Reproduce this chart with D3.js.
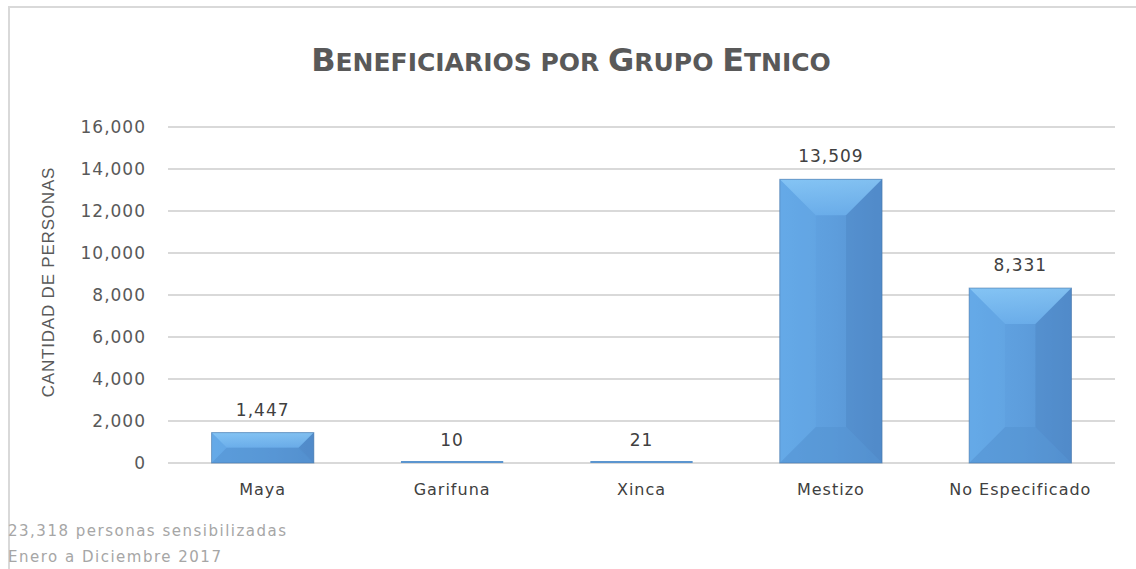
<!DOCTYPE html>
<html>
<head>
<meta charset="utf-8">
<script src="https://cdn.jsdelivr.net/npm/d3@7"></script>
<style>
  body { margin: 0; background: #fff; }
  text { font-family: "DejaVu Sans", Verdana, sans-serif; }
</style>
</head>
<body>
<script>
// data
var categories = ["Maya", "Garifuna", "Xinca", "Mestizo", "No Especificado"];
var values = [1447, 10, 21, 13509, 8331];
var yTicks = [0, 2000, 4000, 6000, 8000, 10000, 12000, 14000, 16000];
var footnotes = ["23,318 personas sensibilizadas", "Enero a Diciembre 2017"];

var W = 1136, H = 569;
var margin = {top: 127, right: 21, bottom: 106, left: 168};
var width = W - margin.left - margin.right,
    height = H - margin.top - margin.bottom;

var svg = d3.select("body").append("svg")
  .attr("width", W)
  .attr("height", H);

// outer chart border
svg.append("rect")
  .attr("x", 9).attr("y", 7)
  .attr("width", W).attr("height", H)
  .attr("fill", "none")
  .attr("stroke", "#d9d9d9")
  .attr("stroke-width", 2);

// title in small caps
var title = svg.append("text")
  .attr("x", W / 2 + 3).attr("y", 71)
  .attr("text-anchor", "middle")
  .attr("fill", "#595959")
  .style("font-weight", "bold");
[["B", "ENEFICIARIOS "], ["", "POR "], ["G", "RUPO "], ["E", "TNICO"]].forEach(function(p) {
  if (p[0]) title.append("tspan").style("font-size", "32px").text(p[0]);
  title.append("tspan").style("font-size", "25px").text(p[1]);
});

var g = svg.append("g")
  .attr("transform", "translate(" + margin.left + "," + margin.top + ")");

var x = d3.scaleBand()
  .domain(categories)
  .range([0, width])
  .paddingInner(0.46)
  .paddingOuter(0.23);

var y = d3.scaleLinear()
  .domain([0, 16000])
  .range([height, 0]);

// gridlines
g.selectAll(".grid")
  .data(yTicks).enter()
  .append("line")
  .attr("x1", 0).attr("x2", width)
  .attr("y1", function(d) { return y(d); })
  .attr("y2", function(d) { return y(d); })
  .attr("stroke", "#d9d9d9")
  .attr("stroke-width", 2);

// y axis labels
var yAxis = g.append("g")
  .call(d3.axisLeft(y).tickValues(yTicks).tickFormat(d3.format(",")).tickSize(0).tickPadding(22));
yAxis.select(".domain").remove();
yAxis.selectAll("text")
  .attr("fill", "#595959")
  .style("font-size", "17px")
  .style("letter-spacing", "1px");

// axis title
svg.append("text")
  .attr("transform", "translate(54,282) rotate(-90)")
  .attr("text-anchor", "middle")
  .attr("fill", "#595959")
  .style("font-family", "'Liberation Sans', Arial, sans-serif")
  .style("font-size", "17px")
  .style("letter-spacing", "0.8px")
  .text("CANTIDAD DE PERSONAS");

// bevel gradients
var defs = svg.append("defs");
var faceGrad = defs.append("linearGradient").attr("id", "face")
  .attr("x1", 0).attr("x2", 1).attr("y1", 0).attr("y2", 0);
faceGrad.append("stop").attr("offset", "0%").attr("stop-color", "#63a7e6");
faceGrad.append("stop").attr("offset", "55%").attr("stop-color", "#5d9ddc");
faceGrad.append("stop").attr("offset", "100%").attr("stop-color", "#5590cf");
var topGrad = defs.append("linearGradient").attr("id", "topbevel")
  .attr("x1", 0).attr("x2", 0).attr("y1", 0).attr("y2", 1);
topGrad.append("stop").attr("offset", "0%").attr("stop-color", "#8ccbf8");
topGrad.append("stop").attr("offset", "100%").attr("stop-color", "#6db0ec");

var bw = x.bandwidth();
var bars = g.selectAll(".bar")
  .data(values).enter()
  .append("g")
  .attr("class", "bar");

bars.each(function(d, i) {
  var sel = d3.select(this);
  var x0 = x(categories[i]), x1 = x0 + bw;
  var y0 = y(d), y1 = y(0);
  var h = y1 - y0;
  if (h < 3) {
    sel.append("rect")
      .attr("x", x0).attr("y", y1 - 2)
      .attr("width", bw).attr("height", 2)
      .attr("fill", "#5b95cf");
    return;
  }
  var b = Math.min(bw / 2, h / 2, 36); // bevel depth
  sel.append("rect")
    .attr("x", x0).attr("y", y0)
    .attr("width", bw).attr("height", h)
    .attr("fill", "url(#face)");
  // top bevel
  sel.append("polygon")
    .attr("points", [[x0, y0], [x1, y0], [x1 - b, y0 + b], [x0 + b, y0 + b]].join(" "))
    .attr("fill", "url(#topbevel)").attr("opacity", 0.8);
  // left bevel
  sel.append("polygon")
    .attr("points", [[x0, y0], [x0 + b, y0 + b], [x0 + b, y1 - b], [x0, y1]].join(" "))
    .attr("fill", "#6aaeea").attr("opacity", 0.3);
  // right bevel
  sel.append("polygon")
    .attr("points", [[x1, y0], [x1, y1], [x1 - b, y1 - b], [x1 - b, y0 + b]].join(" "))
    .attr("fill", "#4a83c0").attr("opacity", 0.4);
  // bottom bevel
  sel.append("polygon")
    .attr("points", [[x0, y1], [x1, y1], [x1 - b, y1 - b], [x0 + b, y1 - b]].join(" "))
    .attr("fill", "#5190cf").attr("opacity", 0.45);
  sel.append("rect")
    .attr("x", x0).attr("y", y0)
    .attr("width", bw).attr("height", h)
    .attr("fill", "none")
    .attr("stroke", "#4877a8").attr("stroke-width", 1).attr("opacity", 0.6);
});

// value labels
g.selectAll(".label")
  .data(values).enter()
  .append("text")
  .attr("x", function(d, i) { return x(categories[i]) + bw / 2; })
  .attr("y", function(d) { return y(d) - 17; })
  .attr("text-anchor", "middle")
  .attr("fill", "#404040")
  .style("font-size", "17px")
  .style("letter-spacing", "1px")
  .text(function(d) { return d3.format(",")(d); });

// x axis labels
var xAxis = g.append("g")
  .attr("transform", "translate(0," + height + ")")
  .call(d3.axisBottom(x).tickSize(0).tickPadding(21));
xAxis.select(".domain").remove();
xAxis.selectAll("text")
  .attr("fill", "#404040")
  .style("font-size", "16px")
  .style("letter-spacing", "1px");

// footnotes
svg.selectAll(".foot")
  .data(footnotes).enter()
  .append("text")
  .attr("x", 8)
  .attr("y", function(d, i) { return 536 + i * 26; })
  .attr("fill", "#a6a6a6")
  .style("font-size", "15px")
  .style("letter-spacing", "1.5px")
  .text(function(d) { return d; });
</script>
</body>
</html>
